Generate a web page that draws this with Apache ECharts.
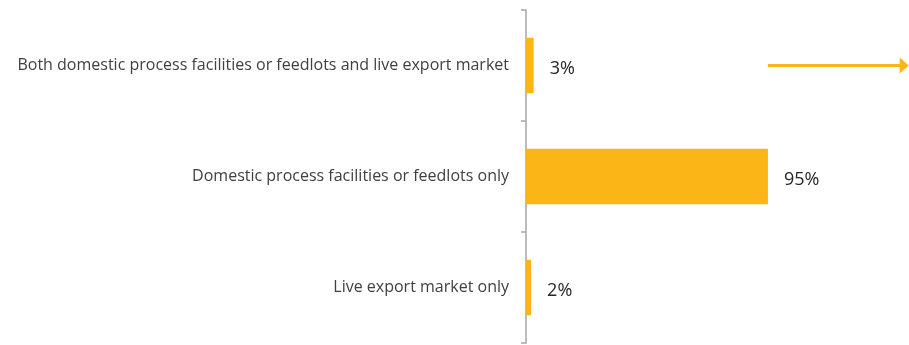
<!DOCTYPE html>
<html>
<head>
<meta charset="utf-8">
<script src="https://cdn.jsdelivr.net/npm/echarts@6/dist/echarts.min.js"></script>
<style>html,body{margin:0;padding:0;background:#fff}#c{width:909px;height:345px}</style>
</head>
<body>
<div id="c"></div>
<script>
var categories = ["Both domestic process facilities or feedlots and live export market", "Domestic process facilities or feedlots only", "Live export market only"];
var values = [3, 95, 2];
var arrowFrom = 95;
var arrowTo = 148.5;

var chart = echarts.init(document.getElementById('c'), null, {renderer: 'canvas'});
chart.setOption({
  animation: false,
  grid: {left: 526, right: 1, top: 10, bottom: 2},
  xAxis: {type: 'value', min: 0, max: 150, show: false},
  yAxis: {
    type: 'category', data: categories, inverse: true,
    axisLine: {lineStyle: {color: '#a6a6a6', width: 1.5}},
    axisTick: {show: true, length: 5, lineStyle: {color: '#a6a6a6', width: 1.5}},
    axisLabel: {color: '#404040', fontFamily: 'Open Sans', fontSize: 16, margin: 17}
  },
  series: [{
    type: 'bar', data: values, barWidth: '50%', clip: false,
    itemStyle: {color: '#FBB516'},
    label: {show: true, position: 'right', distance: 16, formatter: '{c}%', color: '#262626', fontFamily: 'Open Sans', fontSize: 18, offset: [0, 3]},
    markLine: {
      silent: true,
      symbol: ['none', 'triangle'],
      symbolSize: [16, 9],
      lineStyle: {color: '#FBB516', width: 3, type: 'solid'},
      label: {show: false},
      data: [[{coord: [arrowFrom, 0]}, {coord: [arrowTo, 0]}]]
    }
  }]
});
</script>
</body>
</html>
